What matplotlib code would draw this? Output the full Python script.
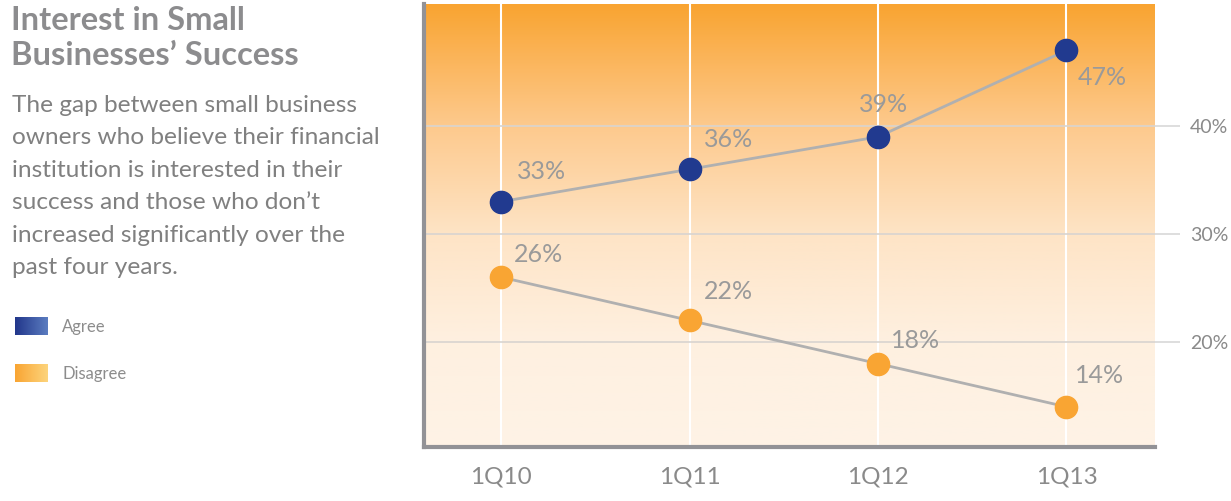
import numpy as np
import matplotlib
import matplotlib.pyplot as plt
from matplotlib.colors import LinearSegmentedColormap

# data
quarters = ["1Q10", "1Q11", "1Q12", "1Q13"]
agree = [33, 36, 39, 47]
disagree = [26, 22, 18, 14]
yticks = [20, 30, 40]

# label offsets in pixels (dx, dy) for each point
agree_off = [(40, 30), (39, 30), (5, 32), (36, -27)]
disagree_off = [(37, 23), (39, 29), (37, 23), (33, 31)]

plt.rcParams['font.family'] = ['Lato', 'DejaVu Sans']

W, H = 1231, 501
fig = plt.figure(figsize=(W / 100, H / 100), dpi=100)

ax = fig.add_axes([424 / W, 1 - 447 / H, (1155 - 424) / W, (447 - 4) / H])
x = np.arange(len(quarters))
xlim = (-0.41, 3.47)
ylim = (10.28, 51.3)
ax.set_xlim(*xlim)
ax.set_ylim(*ylim)

# gradient background (bottom -> top)
grad_cmap = LinearSegmentedColormap.from_list(
    "bg", [(0.0, "#fef3e6"), (0.24, "#fef0e0"), (0.48, "#fee4c6"), (0.73, "#fdc98c"), (1.0, "#f9a431")])
grad = np.linspace(0, 1, 256).reshape(-1, 1)
ax.imshow(grad, aspect="auto", cmap=grad_cmap, origin="lower",
          extent=(xlim[0], xlim[1], ylim[0], ylim[1]), zorder=0)

# grid
for xi in x:
    ax.axvline(xi, color="white", lw=1.5, zorder=1)
for yt in yticks:
    ax.axhline(yt, color="#d8d4d0", lw=1.2, zorder=1)

ax.plot(x, agree, color="#b0b0b0", lw=2, zorder=2)
ax.plot(x, disagree, color="#b0b0b0", lw=2, zorder=2)
ax.plot(x, agree, "o", ms=16, color="#213a8f", zorder=3)
ax.plot(x, disagree, "o", ms=16, color="#f9a533", zorder=3)

for xi, v, (dx, dy) in zip(x, agree, agree_off):
    ax.annotate("%d%%" % v, (xi, v), xytext=(dx * 0.72, dy * 0.72), textcoords="offset points",
                ha="center", va="center", fontsize=18, color="#9a9a9a", zorder=4)
for xi, v, (dx, dy) in zip(x, disagree, disagree_off):
    ax.annotate("%d%%" % v, (xi, v), xytext=(dx * 0.72, dy * 0.72), textcoords="offset points",
                ha="center", va="center", fontsize=18, color="#9a9a9a", zorder=4)

ax.set_xticks(x)
ax.set_xticklabels(quarters)
ax.set_yticks(yticks)
ax.set_yticklabels(["%d%%" % t for t in yticks])
ax.yaxis.tick_right()
ax.tick_params(axis="x", length=0, pad=14, labelsize=17.5, labelcolor="#8a8a8a")
ax.tick_params(axis="y", length=18, width=1.2, color="#d8d8d8", pad=7, labelsize=14, labelcolor="#8a8a8a")

for s in ["top", "right"]:
    ax.spines[s].set_visible(False)
for s in ["left", "bottom"]:
    ax.spines[s].set_color("#929296")
    ax.spines[s].set_linewidth(3)

# left text panel
fig.text(11 / W, 1 - 6 / H, "Interest in Small\nBusinesses\u2019 Success", ha="left", va="top",
         fontsize=23.5, fontweight="bold", color="#8c8c8e", linespacing=1.24)
body = ("The gap between small business\nowners who believe their financial\n"
        "institution is interested in their\nsuccess and those who don\u2019t\n"
        "increased significantly over the\npast four years.")
fig.text(12 / W, 1 - 95 / H, body, ha="left", va="top", fontsize=17.6, color="#808080",
         linespacing=1.67)

legend_items = [("Agree", ["#22378b", "#5b7cc0"], 326), ("Disagree", ["#f9a533", "#fdd47c"], 373)]
for name, cols, yc in legend_items:
    lax = fig.add_axes([15 / W, 1 - (yc + 9) / H, 33 / W, 18 / H])
    lax.imshow(np.linspace(0, 1, 64).reshape(1, -1), aspect="auto",
               cmap=LinearSegmentedColormap.from_list(name, cols))
    lax.axis("off")
    fig.text(62 / W, 1 - (yc + 1) / H, name, ha="left", va="center", fontsize=12, color="#8c8c8c")

fig.savefig("out.png", dpi=100)
